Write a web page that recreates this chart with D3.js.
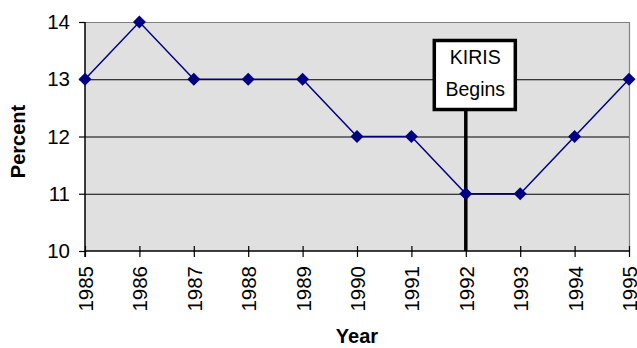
<!DOCTYPE html>
<html>
<head>
<meta charset="utf-8">
<script src="https://cdn.jsdelivr.net/npm/d3@7"></script>
<style>
  html, body { margin: 0; padding: 0; background: #fff; }
  svg { display: block; font-family: "Liberation Sans", Arial, sans-serif; }
</style>
</head>
<body>
<svg id="chart" width="637" height="348"></svg>
<script>
const years = [1985, 1986, 1987, 1988, 1989, 1990, 1991, 1992, 1993, 1994, 1995];
const percent = [13, 14, 13, 13, 13, 12, 12, 11, 11, 12, 13];
const yTicks = [10, 11, 12, 13, 14];
const eventYear = 1992;
const eventLines = ["KIRIS", "Begins"];

const svg = d3.select("#chart");
const plot = { left: 85, top: 22, right: 629, bottom: 251 };

const x = d3.scaleLinear().domain([years[0], years[years.length - 1]]).range([plot.left, plot.right]);
const y = d3.scaleLinear().domain([10, 14]).range([plot.bottom, plot.top]);

// plot background
svg.append("rect")
  .attr("x", plot.left).attr("y", plot.top)
  .attr("width", plot.right - plot.left).attr("height", plot.bottom - plot.top)
  .attr("fill", "#e0e0e0");

// horizontal gridlines
svg.append("g").selectAll("line").data(yTicks.filter(d => d > 10 && d < 14)).join("line")
  .attr("x1", plot.left).attr("x2", plot.right)
  .attr("y1", d => y(d) + 0.5).attr("y2", d => y(d) + 0.5)
  .attr("stroke", "#000").attr("stroke-width", 1);

// top and right frame
svg.append("path")
  .attr("d", `M${plot.left},${plot.top + 0.5}H${plot.right + 0.5}V${plot.bottom}`)
  .attr("fill", "none").attr("stroke", "#808080").attr("stroke-width", 1.2);

// y axis
const yAxis = d3.axisLeft(y).tickValues(yTicks).tickSize(6).tickPadding(9).tickFormat(d3.format("d"));
const gy = svg.append("g").attr("transform", `translate(${plot.left},0)`).call(yAxis);
gy.select(".domain").remove();
gy.selectAll(".tick line").attr("stroke", "#000").attr("stroke-width", 1.2);
gy.selectAll(".tick text").attr("font-size", 20.5).attr("fill", "#000")
  .attr("font-family", "Liberation Sans, Arial, sans-serif");
svg.append("line")
  .attr("x1", plot.left).attr("x2", plot.left)
  .attr("y1", plot.top).attr("y2", plot.bottom + 6)
  .attr("stroke", "#000").attr("stroke-width", 1.5);

// x axis
const xAxis = d3.axisBottom(x).tickValues(years).tickSize(0).tickFormat(d3.format("d"));
const gx = svg.append("g").attr("transform", `translate(0,${plot.bottom})`).call(xAxis);
gx.select(".domain").remove();
gx.selectAll(".tick line").remove();
gx.selectAll(".tick").append("line")
  .attr("y1", -5).attr("y2", 6).attr("stroke", "#000").attr("stroke-width", 1.2);
gx.selectAll(".tick text")
  .attr("font-size", 20.5).attr("fill", "#000")
  .attr("font-family", "Liberation Sans, Arial, sans-serif")
  .attr("text-anchor", "end")
  .attr("dy", null).attr("y", null)
  .attr("transform", "translate(7.5,15) rotate(-90)");
svg.append("line")
  .attr("x1", plot.left).attr("x2", plot.right)
  .attr("y1", plot.bottom).attr("y2", plot.bottom)
  .attr("stroke", "#000").attr("stroke-width", 1.5);

// event marker line and box
const ex = x(eventYear);
svg.append("line")
  .attr("x1", ex).attr("x2", ex).attr("y1", 110).attr("y2", plot.bottom)
  .attr("stroke", "#000").attr("stroke-width", 3.5);

// data line
const pts = years.map((yr, i) => [x(yr), y(percent[i])]);
svg.append("path")
  .attr("d", d3.line()(pts))
  .attr("fill", "none").attr("stroke", "#000080").attr("stroke-width", 1.5);

svg.append("g").selectAll("path").data(pts).join("path")
  .attr("d", d3.symbol(d3.symbolSquare, 84))
  .attr("transform", d => `translate(${d[0]},${d[1]}) rotate(45)`)
  .attr("fill", "#000080");

svg.append("rect")
  .attr("x", ex - 31.5).attr("y", 40.5).attr("width", 81).attr("height", 69)
  .attr("fill", "#fff").attr("stroke", "#000").attr("stroke-width", 3.5);
svg.append("g").selectAll("text").data(eventLines).join("text")
  .attr("x", ex + 9.5).attr("y", (d, i) => 64 + i * 32)
  .attr("text-anchor", "middle").attr("font-size", 19.5).attr("fill", "#000")
  .text(d => d);

// axis titles
svg.append("text")
  .attr("transform", `translate(25,${(plot.top + plot.bottom) / 2 + 5}) rotate(-90)`)
  .attr("text-anchor", "middle").attr("font-size", 20).attr("font-weight", "bold")
  .text("Percent");
svg.append("text")
  .attr("x", 357).attr("y", 343)
  .attr("text-anchor", "middle").attr("font-size", 20).attr("font-weight", "bold")
  .text("Year");
</script>
</body>
</html>
